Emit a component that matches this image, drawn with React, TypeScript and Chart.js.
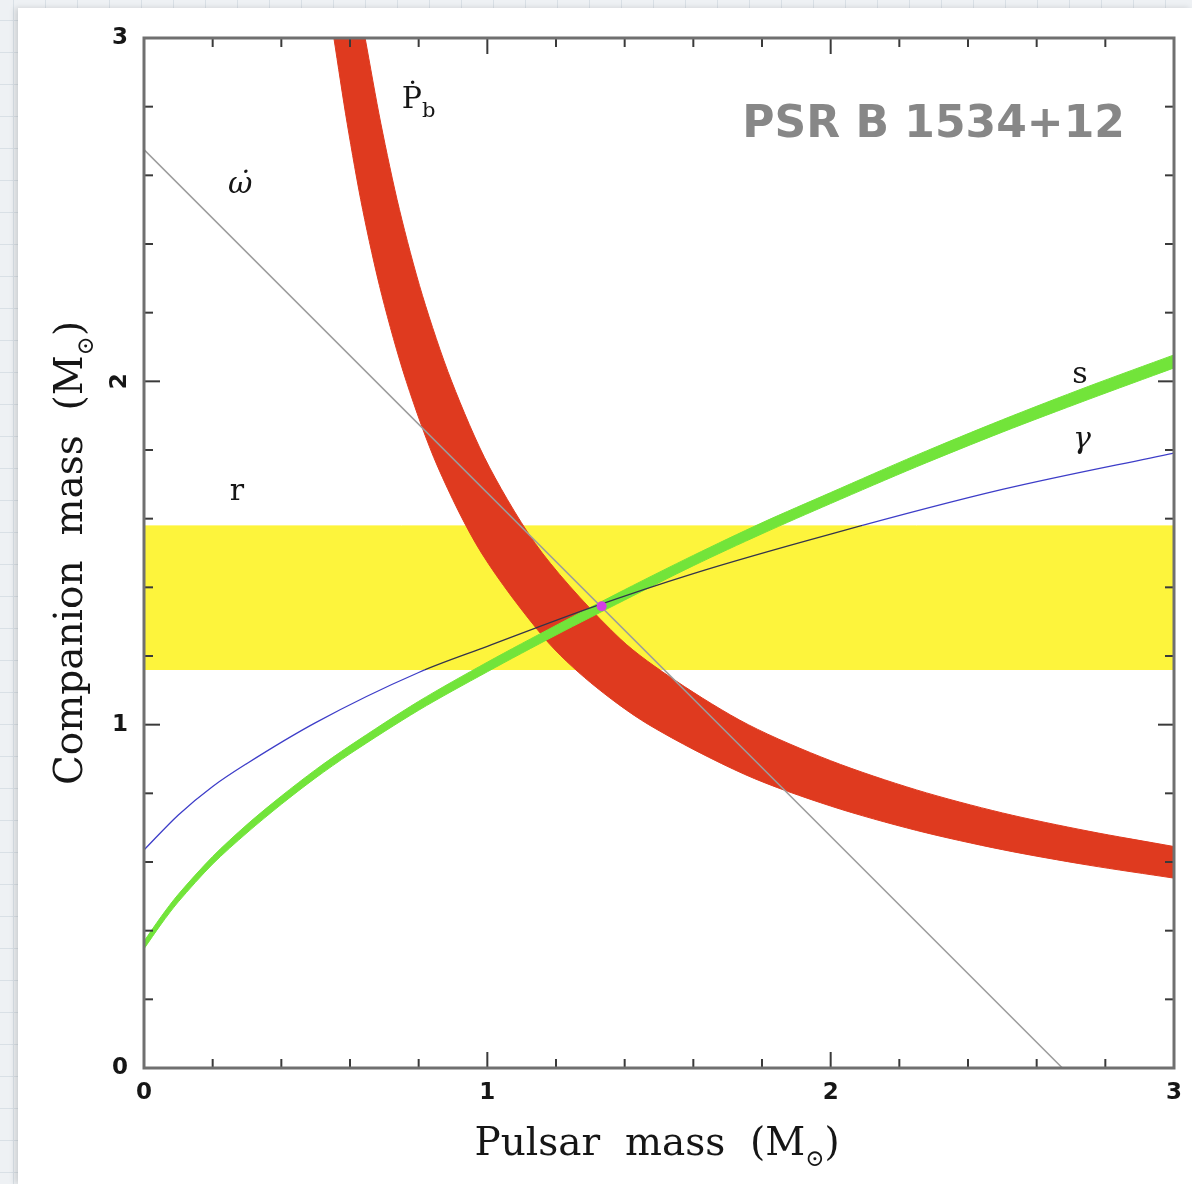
import React, { useEffect, useRef } from "react";
import { Chart, registerables } from "chart.js";

Chart.register(...registerables);

type Pt = [number, number];

// Both axes run over the same mass range (solar masses)
const AXIS_MIN = 0;
const AXIS_MAX = 3;
const MAJOR_TICKS = [0, 1, 2, 3];
const MINOR_STEP = 0.2;

// r (Shapiro range): allowed companion-mass interval
const rBand: [number, number] = [1.159, 1.579];

// ω̇ (periastron advance): total-mass line
const omegaDot: Pt[] = [
  [0, 2.675],
  [2.675, 0],
];

// Ṗb (orbital decay) band, upper and lower edges (pulsar mass, companion mass)
const pbUpper: Pt[] = [
  [0.644, 3.0], [0.69, 2.75], [0.744, 2.5], [0.811, 2.25], [0.896, 2.0],
  [1.006, 1.75], [1.16, 1.5], [1.387, 1.25], [1.55, 1.127], [1.76, 1.0],
  [2.0, 0.895], [2.25, 0.81], [2.5, 0.743], [2.75, 0.69], [3.0, 0.645],
];
const pbLower: Pt[] = [
  [0.553, 3.0], [0.592, 2.75], [0.637, 2.5], [0.693, 2.25], [0.764, 2.0],
  [0.856, 1.75], [0.983, 1.5], [1.168, 1.25], [1.3, 1.123], [1.47, 1.0],
  [1.75, 0.855], [2.0, 0.763], [2.25, 0.692], [2.5, 0.636], [2.75, 0.591], [3.0, 0.553],
];

// s (Shapiro shape) band edges
const sUpper: Pt[] = [
  [0, 0.369], [0.05, 0.441], [0.1, 0.506], [0.2, 0.616], [0.3, 0.709], [0.4, 0.792],
  [0.5, 0.869], [0.6, 0.939], [0.8, 1.068], [1.0, 1.182], [1.2, 1.289], [1.4, 1.393],
  [1.6, 1.493], [1.8, 1.588], [2.0, 1.676], [2.25, 1.785], [2.5, 1.888], [2.75, 1.985], [3.0, 2.077],
];
const sLower: Pt[] = [
  [0, 0.347], [0.05, 0.419], [0.1, 0.484], [0.2, 0.594], [0.3, 0.685], [0.4, 0.768],
  [0.5, 0.845], [0.6, 0.915], [0.8, 1.042], [1.0, 1.154], [1.2, 1.261], [1.4, 1.363],
  [1.6, 1.463], [1.8, 1.556], [2.0, 1.644], [2.25, 1.751], [2.5, 1.852], [2.75, 1.947], [3.0, 2.039],
];

// γ (time dilation / gravitational redshift) curve
const gammaCurve: Pt[] = [
  [0, 0.635], [0.1, 0.737], [0.2, 0.82], [0.3, 0.887], [0.5, 1.006], [0.8, 1.152],
  [1.0, 1.228], [1.3, 1.34], [1.6, 1.44], [2.0, 1.555], [2.5, 1.685], [3.0, 1.791],
];

// Common solution of all constraints
const bestFit: Pt = [1.333, 1.345];

// Curve labels: text parts, position (data units, baseline), font
type Part = { t: string; sub?: boolean };
const curveLabels: { parts: Part[]; x: number; y: number; font: string; subScale?: number }[] = [
  { parts: [{ t: "ω\u0307" }], x: 0.28, y: 2.549, font: 'italic 30px "DejaVu Serif"' },
  { parts: [{ t: "Ṗ" }, { t: "b", sub: true }], x: 0.8, y: 2.796, font: '30px "DejaVu Serif"', subScale: 0.7 },
  { parts: [{ t: "r" }], x: 0.271, y: 1.654, font: '30px "DejaVu Serif"' },
  { parts: [{ t: "s" }], x: 2.726, y: 1.995, font: '30px "DejaVu Serif"' },
  { parts: [{ t: "γ" }], x: 2.732, y: 1.806, font: 'italic 30px "DejaVu Serif"' },
];

const plotTitle = "PSR B 1534+12";
const xTitle: Part[] = [{ t: "Pulsar  mass  (M" }, { t: "⊙", sub: true }, { t: ")" }];
const yTitle: Part[] = [{ t: "Companion  mass  (M" }, { t: "⊙", sub: true }, { t: ")" }];

const COLORS = {
  r: "#fdf43c",
  pb: "#df3a1f",
  s: "#72e43a",
  gamma: "#3d3dc8",
  gammaInBand: "#34344a",
  omega: "#9c9c9c",
  best: "#d43fe4",
  frame: "#707070",
  tick: "#3a3a3a",
  text: "#161616",
  title: "#878787",
};

const toXY = (p: Pt[]) => p.map(([x, y]) => ({ x, y }));

// Closed outline of a band: upper edge, then lower edge backwards.
// Corner points are repeated so the spline keeps sharp ends.
function bandOutline(upper: Pt[], lower: Pt[]): Pt[] {
  const lowRev = [...lower].reverse();
  return [
    upper[0],
    ...upper,
    upper[upper.length - 1],
    lowRev[0],
    ...lowRev,
    lowRev[lowRev.length - 1],
  ];
}

// Pulsar masses where a curve enters / leaves a companion-mass interval
function crossings(curve: Pt[], lo: number, hi: number): number[] {
  const out: number[] = [];
  for (let i = 1; i < curve.length; i++) {
    const [x0, y0] = curve[i - 1];
    const [x1, y1] = curve[i];
    for (const lvl of [lo, hi]) {
      if ((y0 - lvl) * (y1 - lvl) < 0) out.push(x0 + ((lvl - y0) / (y1 - y0)) * (x1 - x0));
    }
  }
  return out.sort((a, b) => a - b);
}

function fontSize(font: string) {
  const m = font.match(/(\d+(?:\.\d+)?)px/);
  return m ? parseFloat(m[1]) : 20;
}

function partFont(font: string, sub?: boolean, subScale = 0.6) {
  if (!sub) return font;
  return font.replace(/(\d+(?:\.\d+)?)px/, `${Math.round(fontSize(font) * subScale)}px`);
}

function richWidth(ctx: CanvasRenderingContext2D, parts: Part[], font: string, subScale = 0.6) {
  let w = 0;
  for (const p of parts) {
    ctx.font = partFont(font, p.sub, subScale);
    w += ctx.measureText(p.t).width;
  }
  return w;
}

// Draw text with optional subscripts; x is the left edge, y the baseline
function drawRich(
  ctx: CanvasRenderingContext2D,
  parts: Part[],
  x: number,
  y: number,
  font: string,
  subScale = 0.6
) {
  const size = fontSize(font);
  let cx = x;
  ctx.textAlign = "left";
  ctx.textBaseline = "alphabetic";
  for (const p of parts) {
    ctx.font = partFont(font, p.sub, subScale);
    ctx.fillText(p.t, cx, p.sub ? y + size * 0.29 : y);
    cx += ctx.measureText(p.t).width;
  }
}

const framePlugin = {
  id: "frameTicks",
  afterDatasetsDraw(chart: any) {
    const { ctx, chartArea: a, scales } = chart;
    const x = scales.x;
    const y = scales.y;
    ctx.save();
    ctx.strokeStyle = COLORS.tick;
    ctx.lineWidth = 2;
    const n = Math.round((AXIS_MAX - AXIS_MIN) / MINOR_STEP);
    const seg = (x1: number, y1: number, x2: number, y2: number) => {
      ctx.beginPath();
      ctx.moveTo(x1, y1);
      ctx.lineTo(x2, y2);
      ctx.stroke();
    };
    for (let i = 1; i < n; i++) {
      const v = AXIS_MIN + i * MINOR_STEP;
      const major = Math.abs(v - Math.round(v)) < 1e-6;
      const len = major ? 16 : 9;
      const px = x.getPixelForValue(v);
      const py = y.getPixelForValue(v);
      seg(px, a.bottom, px, a.bottom - len);
      seg(px, a.top, px, a.top + len);
      seg(a.left, py, a.left + len, py);
      seg(a.right, py, a.right - len, py);
    }
    ctx.strokeStyle = COLORS.frame;
    ctx.lineWidth = 3;
    ctx.strokeRect(a.left, a.top, a.right - a.left, a.bottom - a.top);
    ctx.restore();
  },
};

const textPlugin = {
  id: "texts",
  afterDraw(chart: any) {
    const { ctx, chartArea: a, scales } = chart;
    const x = scales.x;
    const y = scales.y;
    ctx.save();
    ctx.fillStyle = COLORS.text;

    // tick labels
    ctx.font = 'bold 23px "DejaVu Sans"';
    for (const v of MAJOR_TICKS) {
      ctx.textAlign = "center";
      ctx.textBaseline = "middle";
      ctx.fillText(String(v), x.getPixelForValue(v), a.bottom + 25);
      const py = y.getPixelForValue(v);
      if (v === 2) {
        ctx.save();
        ctx.translate(a.left - 24, py);
        ctx.rotate(-Math.PI / 2);
        ctx.fillText(String(v), 0, 0);
        ctx.restore();
      } else {
        ctx.textAlign = "right";
        ctx.fillText(String(v), a.left - 16, py);
      }
    }

    // axis titles
    const tFont = '39px "DejaVu Serif", "DejaVu Sans"';
    const wx = richWidth(ctx, xTitle, tFont);
    drawRich(ctx, xTitle, (a.left + a.right) / 2 - wx / 2 - 2, a.bottom + 87, tFont);
    const wy = richWidth(ctx, yTitle, tFont);
    ctx.save();
    ctx.translate(a.left - 62, (a.top + a.bottom) / 2);
    ctx.rotate(-Math.PI / 2);
    drawRich(ctx, yTitle, -wy / 2, 0, tFont);
    ctx.restore();

    // curve labels
    for (const l of curveLabels) {
      const w = richWidth(ctx, l.parts, l.font, l.subScale);
      drawRich(ctx, l.parts, x.getPixelForValue(l.x) - w / 2, y.getPixelForValue(l.y), l.font, l.subScale);
    }

    // pulsar name
    ctx.fillStyle = COLORS.title;
    ctx.font = 'bold 44px "DejaVu Sans"';
    ctx.textAlign = "right";
    ctx.textBaseline = "alphabetic";
    ctx.fillText(plotTitle, x.getPixelForValue(2.857), y.getPixelForValue(2.712));
    ctx.restore();
  },
};

export default function App() {
  const ref = useRef<HTMLCanvasElement>(null);

  useEffect(() => {
    const canvas = ref.current;
    if (!canvas) return;
    const gammaCross = crossings(gammaCurve, rBand[0], rBand[1]);

    // γ line changes tone where it runs across the r band
    const gammaColor = (c: any) => {
      const chart = c.chart;
      const area = chart.chartArea;
      if (!area || gammaCross.length < 2) return COLORS.gamma;
      const xs = chart.scales.x;
      const g = chart.ctx.createLinearGradient(area.left, 0, area.right, 0);
      const f = (v: number) =>
        Math.min(1, Math.max(0, (xs.getPixelForValue(v) - area.left) / (area.right - area.left)));
      const a = f(gammaCross[0]);
      const b = f(gammaCross[gammaCross.length - 1]);
      g.addColorStop(0, COLORS.gamma);
      g.addColorStop(a, COLORS.gamma);
      g.addColorStop(Math.min(1, a + 0.0001), COLORS.gammaInBand);
      g.addColorStop(b, COLORS.gammaInBand);
      g.addColorStop(Math.min(1, b + 0.0001), COLORS.gamma);
      g.addColorStop(1, COLORS.gamma);
      return g;
    };

    const chart = new Chart(canvas, {
      type: "scatter",
      data: {
        datasets: [
          {
            label: "best fit",
            data: toXY([bestFit]),
            showLine: false,
            pointRadius: 5,
            pointBackgroundColor: COLORS.best,
            pointBorderWidth: 0,
          },
          {
            label: "γ",
            data: toXY(gammaCurve),
            showLine: true,
            borderColor: gammaColor,
            borderWidth: 1.3,
            pointRadius: 0,
            cubicInterpolationMode: "monotone",
          },
          {
            label: "ω̇",
            data: toXY(omegaDot),
            showLine: true,
            borderColor: COLORS.omega,
            borderWidth: 1.5,
            pointRadius: 0,
          },
          {
            label: "s",
            data: toXY(bandOutline(sUpper, sLower)),
            showLine: true,
            fill: "shape",
            backgroundColor: COLORS.s,
            borderColor: COLORS.s,
            borderWidth: 1,
            pointRadius: 0,
            tension: 0.3,
          },
          {
            label: "Ṗb",
            data: toXY(bandOutline(pbUpper, pbLower)),
            showLine: true,
            fill: "shape",
            backgroundColor: COLORS.pb,
            borderColor: COLORS.pb,
            borderWidth: 1,
            pointRadius: 0,
            tension: 0.3,
          },
          {
            label: "r",
            data: toXY([
              [AXIS_MIN, rBand[1]],
              [AXIS_MAX, rBand[1]],
            ]),
            showLine: true,
            fill: { value: rBand[0] },
            backgroundColor: COLORS.r,
            borderColor: COLORS.r,
            borderWidth: 1,
            pointRadius: 0,
          },
        ],
      } as any,
      options: {
        animation: false,
        responsive: false,
        devicePixelRatio: 1,
        layout: { padding: { left: 126, right: 18, top: 30, bottom: 116 } },
        scales: {
          x: { type: "linear", min: AXIS_MIN, max: AXIS_MAX, display: false },
          y: { type: "linear", min: AXIS_MIN, max: AXIS_MAX, display: false },
        },
        plugins: {
          legend: { display: false },
          tooltip: { enabled: false },
        },
      } as any,
      plugins: [framePlugin, textPlugin],
    });
    return () => chart.destroy();
  }, []);

  return (
    <div
      style={{
        position: "fixed",
        left: 0,
        top: 0,
        width: 1192,
        height: 1184,
        overflow: "hidden",
        backgroundColor: "#eef1f4",
        backgroundImage:
          "linear-gradient(#d9e0e6 1px, transparent 1px), linear-gradient(90deg, #d9e0e6 1px, transparent 1px)",
        backgroundSize: "32px 32px",
        backgroundPosition: "13px 20px",
      }}
    >
      <div
        style={{
          position: "absolute",
          left: 18,
          top: 8,
          width: 1174,
          height: 1176,
          background: "#ffffff",
          boxShadow: "-3px 0 6px rgba(0,0,0,0.14)",
        }}
      >
        <canvas ref={ref} width={1174} height={1176} style={{ display: "block" }} />
      </div>
    </div>
  );
}
